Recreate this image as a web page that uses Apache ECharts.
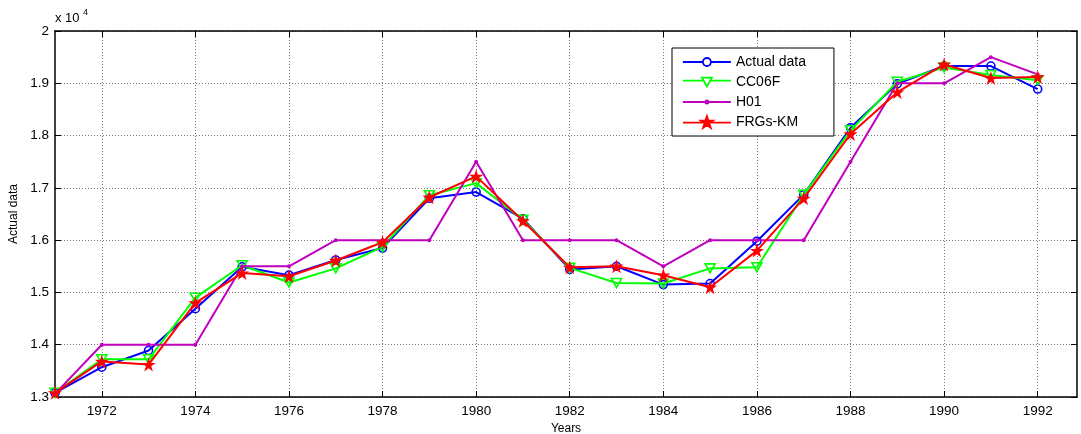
<!DOCTYPE html>
<html>
<head>
<meta charset="utf-8">
<script src="https://cdn.jsdelivr.net/npm/echarts@6/dist/echarts.min.js"></script>
<style>
html,body{margin:0;padding:0;background:#fff;overflow:hidden;}
#chart{width:1081px;height:434px;}
</style>
</head>
<body>
<div id="chart"></div>
<script>
const years = [1971,1972,1973,1974,1975,1976,1977,1978,1979,1980,1981,1982,1983,1984,1985,1986,1987,1988,1989,1990,1991,1992];
const actualData = [13080,13570,13890,14690,15490,15330,15620,15850,16800,16920,16410,15440,15500,15150,15170,15980,16870,18150,18990,19330,19330,18890];
const cc06f = [13080,13720,13720,14900,15520,15190,15460,15870,16860,17090,16390,15470,15180,15170,15460,15480,16870,18100,19030,19300,19160,19060];
const h01 = [13060,14000,14000,14000,15500,15500,16000,16000,16000,17500,16000,16000,16000,15500,16000,16000,16000,17500,19000,19000,19500,19170];
const frgsKm = [13080,13680,13620,14800,15370,15310,15610,15960,16820,17220,16370,15480,15500,15330,15100,15800,16800,18030,18830,19360,19100,19120];
const xTicks = [1972,1974,1976,1978,1980,1982,1984,1986,1988,1990,1992];
const seriesNames = ['Actual data','CC06F','H01','FRGs-KM'];

const FONT = "'Liberation Sans', Arial, sans-serif";
const star = 'path://M50,0 L61.2,34.5 L97.6,34.5 L68.2,55.9 L79.4,90.5 L50,69.1 L20.6,90.5 L31.8,55.9 L2.4,34.5 L38.8,34.5 Z';
const triDown = 'path://M0,0 L20,0 L10,17 Z';

// legend icons: line sample with marker in the middle (48px wide)
const legIcons = [
  'path://M0,4 L20,4 M28,4 L48,4 M28,4 A4,4 0 1,1 20,4 A4,4 0 1,1 28,4 Z',
  'path://M0,3 L20.7,3 M27.3,3 L48,3 M19,0 L29,0 L24,8.7 Z',
  'path://M0,1.6 L48,1.6 M25.6,1.6 A1.6,1.6 0 1,1 22.4,1.6 A1.6,1.6 0 1,1 25.6,1.6 Z',
  'path://M0,6.5 L48,6.5 M24,0 L25.47,4.48 L30.18,4.49 L26.38,7.27 L27.82,11.76 L24,9 L20.18,11.76 L21.62,7.27 L17.82,4.49 L22.53,4.48 Z'
];
const legStyles = [
  {color:'rgba(0,0,0,0)', borderColor:'#0000ff', borderWidth:1.8},
  {color:'rgba(0,0,0,0)', borderColor:'#00ff00', borderWidth:1.8},
  {color:'#bf00bf', borderColor:'#bf00bf', borderWidth:1.8},
  {color:'#ff0000', borderColor:'#ff0000', borderWidth:1.8}
];

function pairs(arr){ return years.map((y,i)=>[y, arr[i]]); }

const chart = echarts.init(document.getElementById('chart'), null, {renderer:'canvas'});
const gridLine = {show:true, lineStyle:{color:'#777', type:[1,2], width:1}};
const xBase = {
  type:'value', min:1971, max:1992.84,
  axisLine:{show:true, onZero:false, lineStyle:{color:'#000', width:1.5}},
  axisTick:{show:true, inside:true, length:6, customValues:xTicks, lineStyle:{color:'#000'}},
  axisLabel:{show:true, customValues:xTicks, color:'#000', fontSize:13.5, fontFamily:FONT, margin:7,
    formatter:v=>String(v)},
  splitLine:gridLine
};
const yBase = {
  type:'value', min:13000, max:20000, interval:1000,
  axisLine:{show:true, onZero:false, lineStyle:{color:'#000', width:1.5}},
  axisTick:{show:true, inside:true, length:6, lineStyle:{color:'#000'}},
  axisLabel:{show:true, color:'#000', fontSize:13.5, fontFamily:FONT, margin:6,
    formatter:v=>String(parseFloat((v/10000).toFixed(1)))},
  splitLine:gridLine
};

const option = {
  animation:false,
  backgroundColor:'#fff',
  grid:{left:55, right:4, top:31, bottom:37, containLabel:false, outerBoundsMode:'none'},
  xAxis:[
    Object.assign({}, xBase, {position:'bottom', name:'Years', nameLocation:'middle', nameGap:24,
      nameTextStyle:{color:'#000', fontSize:12, fontFamily:FONT}}),
    Object.assign({}, xBase, {position:'top', axisLabel:{show:false}, splitLine:{show:false}})
  ],
  yAxis:[
    Object.assign({}, yBase, {position:'left', name:'Actual data', nameLocation:'middle', nameGap:31,
      nameTextStyle:{color:'#000', fontSize:12, fontFamily:FONT}}),
    Object.assign({}, yBase, {position:'right', axisLabel:{show:false}, splitLine:{show:false}})
  ],
  legend:{
    orient:'vertical', left:672, top:48,
    data:seriesNames.map((n,i)=>({name:n, icon:legIcons[i], itemStyle:legStyles[i]})),
    backgroundColor:'#fff', borderColor:'#000', borderWidth:1,
    padding:[7,28,7,10], itemGap:6, itemWidth:48, itemHeight:14,
    textStyle:{color:'#000', fontSize:14, fontFamily:FONT}
  },
  graphic:[
    {type:'text', left:55, top:12, style:{text:'x 10', fontSize:13, fontFamily:FONT, fill:'#000'}},
    {type:'text', left:83, top:8, style:{text:'4', fontSize:9, fontFamily:FONT, fill:'#000'}}
  ],
  series:[
    {name:seriesNames[0], type:'line', data:pairs(actualData), symbol:'circle', symbolSize:8,
      lineStyle:{color:'#0000ff', width:2}, itemStyle:{color:'rgba(255,255,255,0)', borderColor:'#0000ff', borderWidth:1.6}, z:2},
    {name:seriesNames[1], type:'line', data:pairs(cc06f), symbol:triDown, symbolSize:[10,9],
      lineStyle:{color:'#00ff00', width:2}, itemStyle:{color:'rgba(255,255,255,0)', borderColor:'#00ff00', borderWidth:1.6}, z:3},
    {name:seriesNames[2], type:'line', data:pairs(h01), symbol:'circle', symbolSize:4,
      lineStyle:{color:'#bf00bf', width:2}, itemStyle:{color:'#bf00bf'}, z:4},
    {name:seriesNames[3], type:'line', data:pairs(frgsKm), symbol:star, symbolSize:14,
      lineStyle:{color:'#ff0000', width:2}, itemStyle:{color:'#ff0000'}, z:5}
  ]
};
chart.setOption(option);
</script>
</body>
</html>
